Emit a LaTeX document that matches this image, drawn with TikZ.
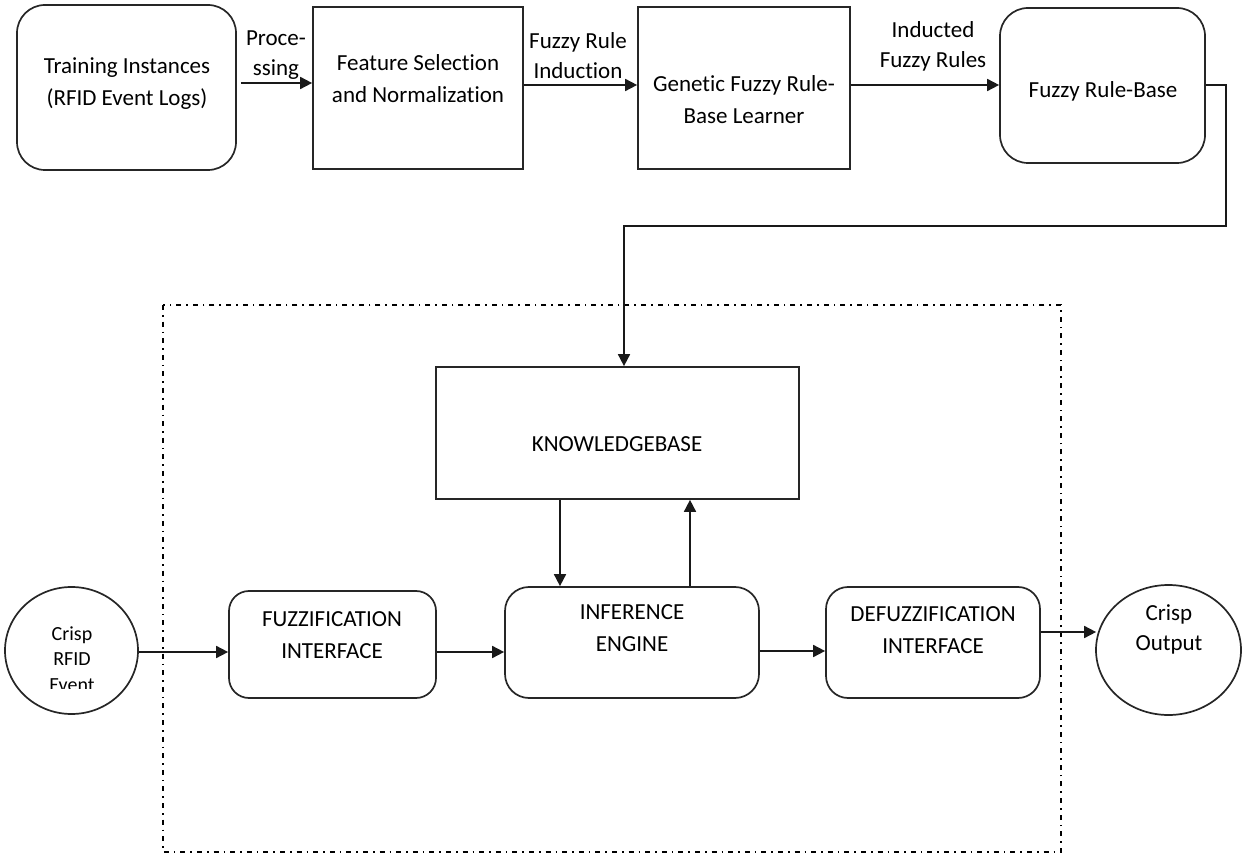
\documentclass[tikz,border=0pt]{standalone}
\usepackage{fontspec}
\setmainfont{Carlito}[Ligatures=NoCommon]
\usetikzlibrary{arrows.meta,shapes.geometric,calc}
\begin{document}
\begin{tikzpicture}[x=0.5pt,y=-0.5pt,
  line width=0.85pt, draw=black!85,
  sqbox/.style={draw, rectangle, inner sep=0pt},
  rbox/.style={draw, rectangle, rounded corners=#1, inner sep=0pt},
  rbox/.default=12pt,
  oval/.style={draw, ellipse, inner sep=0pt},
  txt/.style={align=center, font=\fontsize{11.5pt}{16pt}\selectfont, inner sep=0pt},
  lbl/.style={align=center, font=\fontsize{11.5pt}{15pt}\selectfont, inner sep=0pt},
  arr/.style={-{Triangle[length=6pt,width=6pt]}, draw=black!90},
  frame/.style={draw=black, line width=0.7pt, dash pattern=on 2.5pt off 2.5pt on 0.8pt off 2.5pt}
]
\useasboundingbox (0,0) rectangle (1242,855);

% dash-dotted frame of the fuzzy inference system
\draw[frame] (163,305) rectangle (1061,852);

% ---- learning stage ----
\node[rbox=14pt, minimum width=109.5pt, minimum height=82.5pt] (train) at (126.5,87.5) {};
\node[txt] (train-t) at (127,84) {Training Instances\\(RFID Event Logs)};

\node[sqbox, minimum width=105pt, minimum height=81pt] (feat) at (418,88) {};
\node[txt] (feat-t) at (418,79) {Feature Selection\\and Normalization};

\node[sqbox, minimum width=106pt, minimum height=81pt] (gen) at (744,88) {};
\node[txt] (gen-t) at (744,100) {Genetic Fuzzy Rule-\\Base Learner};

\node[rbox=14pt, minimum width=102.5pt, minimum height=77.5pt] (frb) at (1102.5,85.5) {};
\node[txt] (frb-t) at (1103,91) {Fuzzy Rule-Base};

% edge labels
\node[lbl] (l1) at (276,55) {Proce-\\ssing};
\node[lbl] (l2) at (578,56) {Fuzzy Rule\\Induction};
\node[lbl] (l3) at (933,46) {Inducted\\Fuzzy Rules};

% ---- inference stage ----
\node[sqbox, minimum width=181.5pt, minimum height=66pt] (kb) at (617.5,433) {};
\node[txt] (kb-t) at (617,444) {KNOWLEDGEBASE};

\node[rbox=10pt, minimum width=103.5pt, minimum height=53.5pt] (fuzz) at (332.5,644.5) {};
\node[txt] (fuzz-t) at (332,635) {FUZZIFICATION\\INTERFACE};

\node[rbox=12pt, minimum width=127pt, minimum height=55.5pt] (inf) at (632,642.5) {};
\node[txt] (inf-t) at (632,628) {INFERENCE\\ENGINE};

\node[rbox=11pt, minimum width=107pt, minimum height=55.5pt] (defuzz) at (933,642.5) {};
\node[txt] (defuzz-t) at (933,630) {DEFUZZIFICATION\\INTERFACE};

\node[oval, minimum width=66.5pt, minimum height=63.5pt] (in) at (71.5,650.5) {};
\begin{scope}
  % the last line is cut off at the bottom of its text area
  \clip (10,600) rectangle (135,688);
  \node[align=center, font=\fontsize{10pt}{12.7pt}\selectfont, inner sep=0pt] (in-t) at (72,659) {Crisp\\RFID\\Event};
\end{scope}

\node[oval, minimum width=72.5pt, minimum height=65pt] (out) at (1168.5,650) {};
\node[lbl] (out-t) at (1169,629) {Crisp\\Output};

% ---- connectors ----
\coordinate (r83) at (0,83);
\coordinate (r85) at (0,85);
\coordinate (r226) at (1226,226);
\coordinate (c624) at (624,0);
\coordinate (r652) at (0,652);
\coordinate (r651) at (0,651);
\coordinate (r632) at (0,632);
\coordinate (c560) at (560,0);
\coordinate (c690) at (690,0);

\draw[arr] ($(train.east |- r83)+(4,0)$) -- (feat.west |- r83);
\draw[arr] (feat.east |- r85) -- (gen.west |- r85);
\draw[arr] (gen.east |- r85) -- (frb.west |- r85);
\draw[arr] (frb.east |- r85) -| (r226) -| (kb.north -| c624);

\draw[arr] (kb.south -| c560) -- (inf.north -| c560);
\draw[arr] (inf.north -| c690) -- (kb.south -| c690);

\draw[arr] (in.east |- r652) -- (fuzz.west |- r652);
\draw[arr] (fuzz.east |- r652) -- (inf.west |- r652);
\draw[arr] (inf.east |- r651) -- (defuzz.west |- r651);
\draw[arr] (defuzz.east |- r632) -- ($(out.west |- r632)+(1,0)$);
\end{tikzpicture}
\end{document}
